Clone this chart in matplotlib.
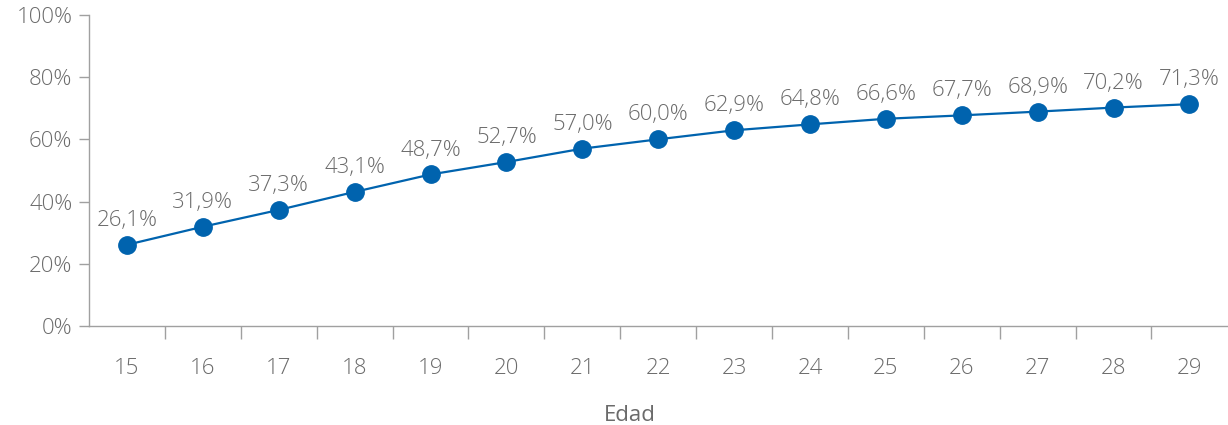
import numpy as np
import matplotlib.pyplot as plt
from matplotlib.ticker import FixedLocator, PercentFormatter

# Data
ages = ["15", "16", "17", "18", "19", "20", "21", "22", "23", "24", "25", "26", "27", "28", "29"]
values = [26.1, 31.9, 37.3, 43.1, 48.7, 52.7, 57.0, 60.0, 62.9, 64.8, 66.6, 67.7, 68.9, 70.2, 71.3]
labels = ["26,1%", "31,9%", "37,3%", "43,1%", "48,7%", "52,7%", "57,0%", "60,0%",
          "62,9%", "64,8%", "66,6%", "67,7%", "68,9%", "70,2%", "71,3%"]

blue = "#0063AE"
grey_txt = "#6b6b6b"
grey_ax = "#a0a0a0"
fs = 16

plt.rcParams['font.family'] = ['Open Sans', 'DejaVu Sans']
plt.rcParams['font.weight'] = 'light'

fig = plt.figure(figsize=(12.28, 4.25), dpi=100)
ax = fig.add_axes([0.0725, 0.233, 0.927, 0.732])

x = np.arange(len(ages))
ax.plot(x, values, color=blue, lw=1.6, marker="o", markersize=12.5, zorder=3)

for xi, v, lab in zip(x, values, labels):
    ax.annotate(lab, (xi, v), xytext=(0, 10), textcoords="offset points",
                ha="center", va="bottom", fontsize=fs, color=grey_txt)

ax.set_xlim(-0.5, len(ages) - 0.5)
ax.set_ylim(0, 100)
ax.set_yticks(np.arange(0, 101, 20))
ax.yaxis.set_major_formatter(PercentFormatter(decimals=0))

ax.set_xticks(x)
ax.set_xticklabels(ages)
ax.xaxis.set_minor_locator(FixedLocator(x[:-1] + 0.5))
ax.tick_params(axis="x", which="major", length=0, pad=23, labelsize=fs, labelcolor=grey_txt)
ax.tick_params(axis="x", which="minor", length=9, width=1, color=grey_ax, direction="out")
ax.tick_params(axis="y", length=7, width=1, color=grey_ax, pad=5, labelsize=fs, labelcolor=grey_txt)

for s in ["top", "right"]:
    ax.spines[s].set_visible(False)
for s in ["left", "bottom"]:
    ax.spines[s].set_color(grey_ax)
    ax.spines[s].set_linewidth(1)

ax.set_xlabel("Edad", fontsize=fs, color=grey_txt)
ax.xaxis.set_label_coords(0.475, -0.255)

fig.savefig("out.png", dpi=100)
